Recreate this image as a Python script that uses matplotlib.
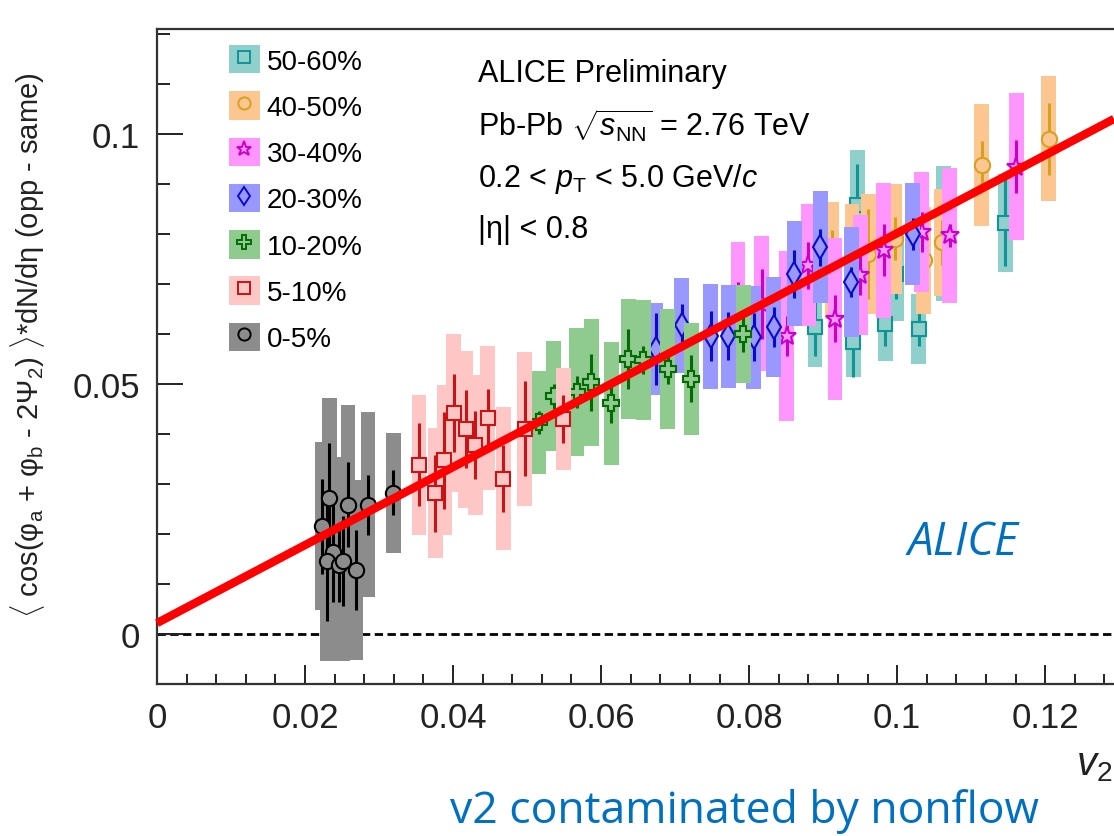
import numpy as np
import matplotlib
matplotlib.use('Agg')
import matplotlib.pyplot as plt
from matplotlib.patches import Rectangle
from matplotlib.lines import Line2D
from matplotlib.legend_handler import HandlerTuple
from matplotlib.ticker import MultipleLocator, FuncFormatter

plt.rcParams['font.family'] = ['Liberation Sans', 'DejaVu Sans']
plt.rcParams['mathtext.fontset'] = 'custom'
plt.rcParams['mathtext.rm'] = 'Liberation Sans'
plt.rcParams['mathtext.it'] = 'Liberation Sans:italic'
plt.rcParams['mathtext.bf'] = 'Liberation Sans:bold'

# --- data: x = v2, y = correlator, stat and sys half-widths
c5060_x = [0.0889, 0.0941, 0.0946, 0.0984, 0.0999, 0.1029, 0.1063, 0.1146]
c5060_y = [0.0613, 0.0583, 0.0857, 0.0620, 0.0720, 0.0610, 0.0800, 0.0822]
c5060_stat = [0.0057, 0.0070, 0.0083, 0.0045, 0.0050, 0.0035, 0.0060, 0.0087]
c5060_sys = [0.0080, 0.0070, 0.0110, 0.0075, 0.0095, 0.0070, 0.0135, 0.0098]

c4050_x = [0.0912, 0.0939, 0.0961, 0.0997, 0.1036, 0.1060, 0.1114, 0.1205]
c4050_y = [0.0747, 0.0740, 0.0760, 0.0790, 0.0747, 0.0783, 0.0938, 0.0990]
c4050_stat = [0.0060, 0.0050, 0.0090, 0.0043, 0.0050, 0.0045, 0.0048, 0.0072]
c4050_sys = [0.0117, 0.0120, 0.0120, 0.0110, 0.0107, 0.0107, 0.0122, 0.0125]

c3040_x = [0.0785, 0.0817, 0.0851, 0.0880, 0.0916, 0.0950, 0.0982, 0.1033, 0.1071, 0.1161]
c3040_y = [0.0650, 0.0660, 0.0595, 0.0737, 0.0630, 0.0717, 0.0767, 0.0803, 0.0797, 0.0934]
c3040_stat = [0.0054, 0.0070, 0.0040, 0.0047, 0.0047, 0.0040, 0.0052, 0.0040, 0.0023, 0.0053]
c3040_sys = [0.0134, 0.0135, 0.0170, 0.0122, 0.0162, 0.0120, 0.0135, 0.0120, 0.0135, 0.0147]

c2030_x = [0.0674, 0.0709, 0.0748, 0.0772, 0.0806, 0.0833, 0.0861, 0.0896, 0.0938, 0.1021]
c2030_y = [0.0570, 0.0617, 0.0595, 0.0595, 0.0593, 0.0613, 0.0720, 0.0773, 0.0703, 0.0800]
c2030_stat = [0.0072, 0.0043, 0.0050, 0.0048, 0.0048, 0.0040, 0.0048, 0.0037, 0.0030, 0.0032]
c2030_sys = [0.0092, 0.0095, 0.0105, 0.0103, 0.0103, 0.0100, 0.0105, 0.0112, 0.0110, 0.0102]

c1020_x = [0.0516, 0.0536, 0.0567, 0.0587, 0.0614, 0.0637, 0.0657, 0.0690, 0.0722, 0.0792]
c1020_y = [0.0423, 0.0475, 0.0483, 0.0503, 0.0461, 0.0550, 0.0547, 0.0530, 0.0510, 0.0600]
c1020_stat = [0.0023, 0.0025, 0.0032, 0.0057, 0.0040, 0.0060, 0.0028, 0.0030, 0.0047, 0.0037]
c1020_sys = [0.0103, 0.0110, 0.0128, 0.0127, 0.0123, 0.0120, 0.0120, 0.0120, 0.0112, 0.0098]

c0510_x = [0.0354, 0.0376, 0.0388, 0.0401, 0.0417, 0.0430, 0.0447, 0.0468, 0.0497, 0.0549]
c0510_y = [0.0338, 0.0281, 0.0347, 0.0442, 0.0409, 0.0377, 0.0432, 0.0310, 0.0410, 0.0429]
c0510_stat = [0.0083, 0.0077, 0.0097, 0.0078, 0.0078, 0.0068, 0.0058, 0.0067, 0.0095, 0.0048]
c0510_sys = [0.0140, 0.0130, 0.0150, 0.0158, 0.0157, 0.0140, 0.0144, 0.0143, 0.0154, 0.0102]

c005_x = [0.0223, 0.0233, 0.0238, 0.0230, 0.0246, 0.0251, 0.0258, 0.0269, 0.0285, 0.0319]
c005_y = [0.0215, 0.0272, 0.0163, 0.0145, 0.0138, 0.0145, 0.0258, 0.0128, 0.0258, 0.0282]
c005_stat = [0.0095, 0.0110, 0.0100, 0.0120, 0.0075, 0.0090, 0.0085, 0.0080, 0.0060, 0.0045]
c005_sys = [0.0168, 0.0200, 0.0190, 0.0200, 0.0190, 0.0200, 0.0200, 0.0180, 0.0185, 0.0120]

# straight-line fit drawn on top (red)
fit_x = [0.0, 0.1293]
fit_y = [0.0021, 0.1030]

labels = ['50-60%', '40-50%', '30-40%', '20-30%', '10-20%', '5-10%', '0-5%']
fills = ['#8fcfcc', '#fcc690', '#ff96ff', '#9898ff', '#8fca8f', '#ffc6c6', '#8c8c8c']
edges = ['#109494', '#d6a020', '#c800c8', '#0a0ac8', '#046a04', '#c81414', '#000000']
markers = ['s', 'o', '*', 'd', 'P', 's', 'o']
msizes = [10, 11, 14, 12, 12, 10.5, 11]

series = [
    (c5060_x, c5060_y, c5060_stat, c5060_sys),
    (c4050_x, c4050_y, c4050_stat, c4050_sys),
    (c3040_x, c3040_y, c3040_stat, c3040_sys),
    (c2030_x, c2030_y, c2030_stat, c2030_sys),
    (c1020_x, c1020_y, c1020_stat, c1020_sys),
    (c0510_x, c0510_y, c0510_stat, c0510_sys),
    (c005_x, c005_y, c005_stat, c005_sys),
]

fig = plt.figure(figsize=(11.14, 8.37), dpi=100)
ax = fig.add_axes([157 / 1114, 1 - 685 / 837, 1 - 157 / 1114, 655 / 837])

box_w = 0.002
handles = []
for i, (x, y, st, sy) in enumerate(series):
    x = np.array(x); y = np.array(y); st = np.array(st); sy = np.array(sy)
    z = 2 + 3 * i
    ax.bar(x, 2 * sy, width=box_w, bottom=y - sy, color=fills[i], lw=0, zorder=z)
    ax.errorbar(x, y, yerr=st, fmt='none', ecolor=edges[i], elinewidth=2.2,
                capsize=0, zorder=z + 1)
    ax.plot(x, y, ls='none', marker=markers[i], ms=msizes[i], mfc=fills[i],
            mec=edges[i], mew=1.5, zorder=z + 2)
    handles.append((Rectangle((0, 0), 1, 1, fc=fills[i], lw=0),
                    Line2D([], [], ls='none', marker=markers[i], ms=msizes[i] * 0.8,
                           mfc=fills[i], mec=edges[i], mew=1.4)))

ax.axhline(0, color='k', lw=2.0, ls=(0, (3, 1.6)), zorder=1)
ax.plot(fit_x, fit_y, color='#ff0000', lw=6, solid_capstyle='butt', zorder=100,
        clip_on=False)

ax.set_xlim(0, 0.1293)
ax.set_ylim(-0.0101, 0.121)
ax.xaxis.set_major_locator(MultipleLocator(0.02))
ax.xaxis.set_minor_locator(MultipleLocator(0.004))
ax.yaxis.set_major_locator(MultipleLocator(0.05))
ax.yaxis.set_minor_locator(MultipleLocator(0.01))
fmt = FuncFormatter(lambda v, p: '%g' % round(v, 4))
ax.xaxis.set_major_formatter(fmt)
ax.yaxis.set_major_formatter(fmt)
ax.tick_params(axis='x', which='major', direction='in', length=14, width=1.4,
               labelsize=25, pad=12, colors='#222222')
ax.tick_params(axis='x', which='minor', direction='in', length=7, width=1.4,
               colors='#222222')
ax.tick_params(axis='y', which='major', direction='in', length=19, width=1.4,
               labelsize=25, pad=12, colors='#222222')
ax.tick_params(axis='y', which='minor', direction='in', length=9, width=1.4,
               colors='#222222')
ax.spines['right'].set_visible(False)
for s in ['left', 'top', 'bottom']:
    ax.spines[s].set_linewidth(1.6)
    ax.spines[s].set_color('#333333')

leg = ax.legend(handles, labels, handler_map={tuple: HandlerTuple(ndivide=1)},
                loc='upper left', bbox_to_anchor=(229 / 1114, 1 - 46 / 837),
                bbox_transform=fig.transFigure, frameon=False, fontsize=20,
                handlelength=1.1, handleheight=1.2, labelspacing=0.6,
                handletextpad=0.25, borderpad=0, borderaxespad=0)
leg.set_zorder(200)

tx = (478 - 157) / 957
ax.text(tx, 0.9206, 'ALICE Preliminary', transform=ax.transAxes, fontsize=22, va='baseline')
ax.text(tx, 0.8366, r'Pb-Pb $\sqrt{s_{\rm NN}}$ = 2.76 TeV', transform=ax.transAxes,
        fontsize=22, va='baseline')
ax.text(tx, 0.7603, r'0.2 < $p_{\rm T}$ < 5.0 GeV/$c$', transform=ax.transAxes,
        fontsize=22, va='baseline')
ax.text(tx, 0.6824, '|η| < 0.8', transform=ax.transAxes, fontsize=22, va='baseline')

ax.text(0.7847, 0.1985, 'ALICE', transform=ax.transAxes, fontsize=33,
        family='Open Sans', style='italic', color='#0070c0', va='baseline')

fig.text(28 / 1114, 1 - 345 / 837,
         r'$\langle$ cos(φ$_{\rm a}$ + φ$_{\rm b}$ - 2Ψ$_{\rm 2}$) $\rangle$*dN/dη (opp - same)',
         rotation=90, ha='center', va='center', fontsize=21, color='#222222')
fig.text(1076 / 1114, 1 - 775 / 837, r'$v_{2}$', fontsize=29, color='#222222',
         va='baseline')
fig.text(745 / 1114, 1 - 823 / 837, 'v2 contaminated by nonflow', fontsize=32,
         family='Open Sans', color='#0070c0', ha='center', va='baseline')

fig.savefig('out.png', dpi=100, facecolor='white')
